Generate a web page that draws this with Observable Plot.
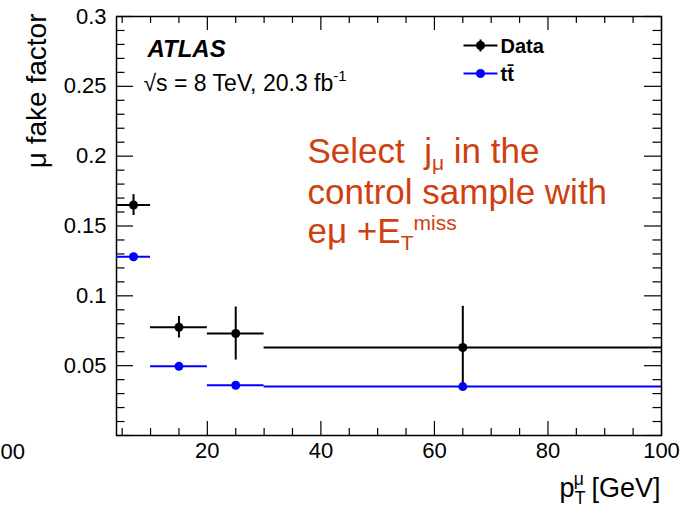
<!DOCTYPE html>
<html>
<head>
<meta charset="utf-8">
<script src="https://cdn.jsdelivr.net/npm/d3@7"></script>
<script src="https://cdn.jsdelivr.net/npm/@observablehq/plot@0.6"></script>
<style>
  html, body { margin: 0; padding: 0; background: white; }
  #chart { width: 685px; height: 513px; overflow: hidden; }
</style>
</head>
<body>
<div id="chart"></div>
<script>
// ---- data ----
const binLow    = [4, 10, 20, 30];
const binHigh   = [10, 20, 30, 100];
const binCenter = [7, 15, 25, 65];
const dataVal   = [0.165, 0.0775, 0.073, 0.063];
const dataErr   = [0.0075, 0.0077, 0.019, 0.0295];
const ttVal     = [0.128, 0.0495, 0.036, 0.035];
const yTickLabels = [0.05, 0.1, 0.15, 0.2, 0.25, 0.3];
const xTickLabels = [20, 40, 60, 80, 100];
const yMajor = [0, 0.05, 0.1, 0.15, 0.2, 0.25, 0.3];
const yMinor = d3.range(1, 30).map(i => i / 100).filter(v => Math.round(v * 100) % 5 !== 0);
const xMajor = [20, 40, 60, 80, 100];
const xMinor = d3.range(5, 100, 5).filter(v => v % 20 !== 0);

const rows = binCenter.map((c, i) => ({
  lo: binLow[i], hi: binHigh[i], c,
  dv: dataVal[i], de: dataErr[i], tv: ttVal[i]
}));

const W = 685, H = 513;
const mL = 116, mR = 24, mT = 16, mB = 78;
const fw = W - mL - mR, fh = H - mT - mB;
const font = "Liberation Sans, Arial, Helvetica, sans-serif";
const red = "#cf4010";

const hline = {draw(ctx) { ctx.moveTo(-17, 0); ctx.lineTo(17, 0); }};
const cross = {draw(ctx) { ctx.moveTo(-17, 0); ctx.lineTo(17, 0); ctx.moveTo(0, -6); ctx.lineTo(0, 6); }};

const plot = Plot.plot({
  width: W, height: H,
  marginLeft: mL, marginRight: mR, marginTop: mT, marginBottom: mB,
  style: {fontFamily: font, color: "black", background: "white"},
  x: {domain: [4, 100]},
  y: {domain: [0, 0.3]},
  marks: [
    Plot.frame({stroke: "black", strokeWidth: 1.5}),
    // ticks (inside frame, ROOT style)
    Plot.tickX(xMajor, {x: d => d, insetTop: fh - 14, stroke: "black", strokeWidth: 1.2}),
    Plot.tickX(xMinor, {x: d => d, insetTop: fh - 7, stroke: "black", strokeWidth: 1.2}),
    Plot.tickX(xMajor, {x: d => d, insetBottom: fh - 14, stroke: "black", strokeWidth: 1.2}),
    Plot.tickX(xMinor, {x: d => d, insetBottom: fh - 7, stroke: "black", strokeWidth: 1.2}),
    Plot.tickY(yMajor, {y: d => d, insetRight: fw - 17, stroke: "black", strokeWidth: 1.2}),
    Plot.tickY(yMinor, {y: d => d, insetRight: fw - 8.5, stroke: "black", strokeWidth: 1.2}),
    Plot.tickY(yMajor, {y: d => d, insetLeft: fw - 17, stroke: "black", strokeWidth: 1.2}),
    Plot.tickY(yMinor, {y: d => d, insetLeft: fw - 8.5, stroke: "black", strokeWidth: 1.2}),
    Plot.axisY({ticks: yTickLabels, tickSize: 0, tickPadding: 10, fontSize: 22, label: null, tickFormat: d => String(d)}),
    Plot.axisX({ticks: xTickLabels, tickSize: 0, tickPadding: 7, fontSize: 22, label: null, tickFormat: d => String(d)}),
    // Data
    Plot.ruleY(rows, {y: "dv", x1: "lo", x2: "hi", stroke: "black", strokeWidth: 2}),
    Plot.ruleX(rows, {x: "c", y1: d => d.dv - d.de, y2: d => d.dv + d.de, stroke: "black", strokeWidth: 2}),
    Plot.dot(rows, {x: "c", y: "dv", r: 4.5, fill: "black"}),
    // ttbar
    Plot.ruleY(rows, {y: "tv", x1: "lo", x2: "hi", stroke: "#0000ff", strokeWidth: 2}),
    Plot.dot(rows, {x: "c", y: "tv", r: 4.5, fill: "#0000ff"}),
    // legend
    Plot.dot([0], {frameAnchor: "top-left", dx: 364, dy: 29, symbol: cross, fill: "none", stroke: "black", strokeWidth: 2}),
    Plot.dot([0], {frameAnchor: "top-left", dx: 364, dy: 29, r: 4.5, fill: "black"}),
    Plot.dot([0], {frameAnchor: "top-left", dx: 364, dy: 57, symbol: hline, fill: "none", stroke: "#0000ff", strokeWidth: 2}),
    Plot.dot([0], {frameAnchor: "top-left", dx: 364, dy: 57, r: 4.5, fill: "#0000ff"}),
    Plot.text(["Data"], {frameAnchor: "top-left", dx: 384, dy: 36, textAnchor: "start", lineAnchor: "bottom", fontSize: 20, fontWeight: "bold", fill: "black"}),
    Plot.text(["t\u0074\u0304"], {frameAnchor: "top-left", dx: 384, dy: 64, textAnchor: "start", lineAnchor: "bottom", fontSize: 20, fontWeight: "bold", fill: "black"}),
    // ATLAS labels
    Plot.text(["ATLAS"], {frameAnchor: "top-left", dx: 31, dy: 40, textAnchor: "start", lineAnchor: "bottom", fontSize: 24, fontWeight: "bold", fontStyle: "italic", fill: "black"}),
    Plot.text(["√s = 8 TeV, 20.3 fb-1"], {frameAnchor: "top-left", dx: 27, dy: 74, textAnchor: "start", lineAnchor: "bottom", fontSize: 23, fill: "black"}),
    // red annotation
    Plot.text(["Select  jμ in the"], {frameAnchor: "top-left", dx: 191, dy: 146, textAnchor: "start", lineAnchor: "bottom", fontSize: 35, fill: red}),
    Plot.text(["control sample with"], {frameAnchor: "top-left", dx: 191, dy: 187, textAnchor: "start", lineAnchor: "bottom", fontSize: 35, fill: red}),
    Plot.text(["eμ +ETmiss"], {frameAnchor: "top-left", dx: 191, dy: 226, textAnchor: "start", lineAnchor: "bottom", fontSize: 35, fill: red}),
    // axis titles
    Plot.text(["μ fake factor"], {frameAnchor: "top-left", dx: -71, dy: -3, rotate: -90, textAnchor: "end", lineAnchor: "bottom", fontSize: 28, fill: "black"}),
    Plot.text(["pTμ [GeV]"], {frameAnchor: "bottom-right", dx: -1, dy: 61, textAnchor: "end", lineAnchor: "bottom", fontSize: 27, fill: "black"}),
    // fragment of neighbouring plot's label
    Plot.text(["00"], {frameAnchor: "bottom-left", dx: -116, dy: 23, textAnchor: "start", lineAnchor: "bottom", fontSize: 22, fill: "black"})
  ]
});

document.getElementById("chart").appendChild(plot);

// rich text (sub/superscripts) via tspans, matched by the text's content
function rich(content, parts, fs) {
  const el = Array.from(plot.querySelectorAll("text")).find(t => t.textContent === content);
  if (!el) return;
  el.textContent = "";
  let cur = 0;
  for (const p of parts) {
    const ts = document.createElementNS("http://www.w3.org/2000/svg", "tspan");
    const target = p.sub ? fs * (p.off ?? 0.28) : p.sup ? -fs * (p.off ?? 0.42) : 0;
    ts.setAttribute("dy", target - cur);
    cur = target;
    if (p.sub || p.sup) ts.setAttribute("font-size", fs * (p.size ?? 0.65));
    if (p.dx) ts.setAttribute("dx", p.dx);
    ts.textContent = p.t;
    el.appendChild(ts);
  }
}
rich("√s = 8 TeV, 20.3 fb-1", [{t: "√s = 8 TeV, 20.3 fb"}, {t: "-1", sup: true}], 23);
rich("Select  jμ in the", [{t: "Select  j"}, {t: "μ", sub: true, off: 0.2, size: 0.6}, {t: " in the"}], 35);
rich("eμ +ETmiss", [{t: "eμ +E"}, {t: "T", sub: true, off: 0.22, size: 0.6}, {t: "miss", sup: true, off: 0.36, size: 0.6}], 35);
rich("pTμ [GeV]", [{t: "p"}, {t: "T", sub: true}, {t: "μ", sup: true, dx: -11.5}, {t: " [GeV]"}], 27);
</script>
</body>
</html>
